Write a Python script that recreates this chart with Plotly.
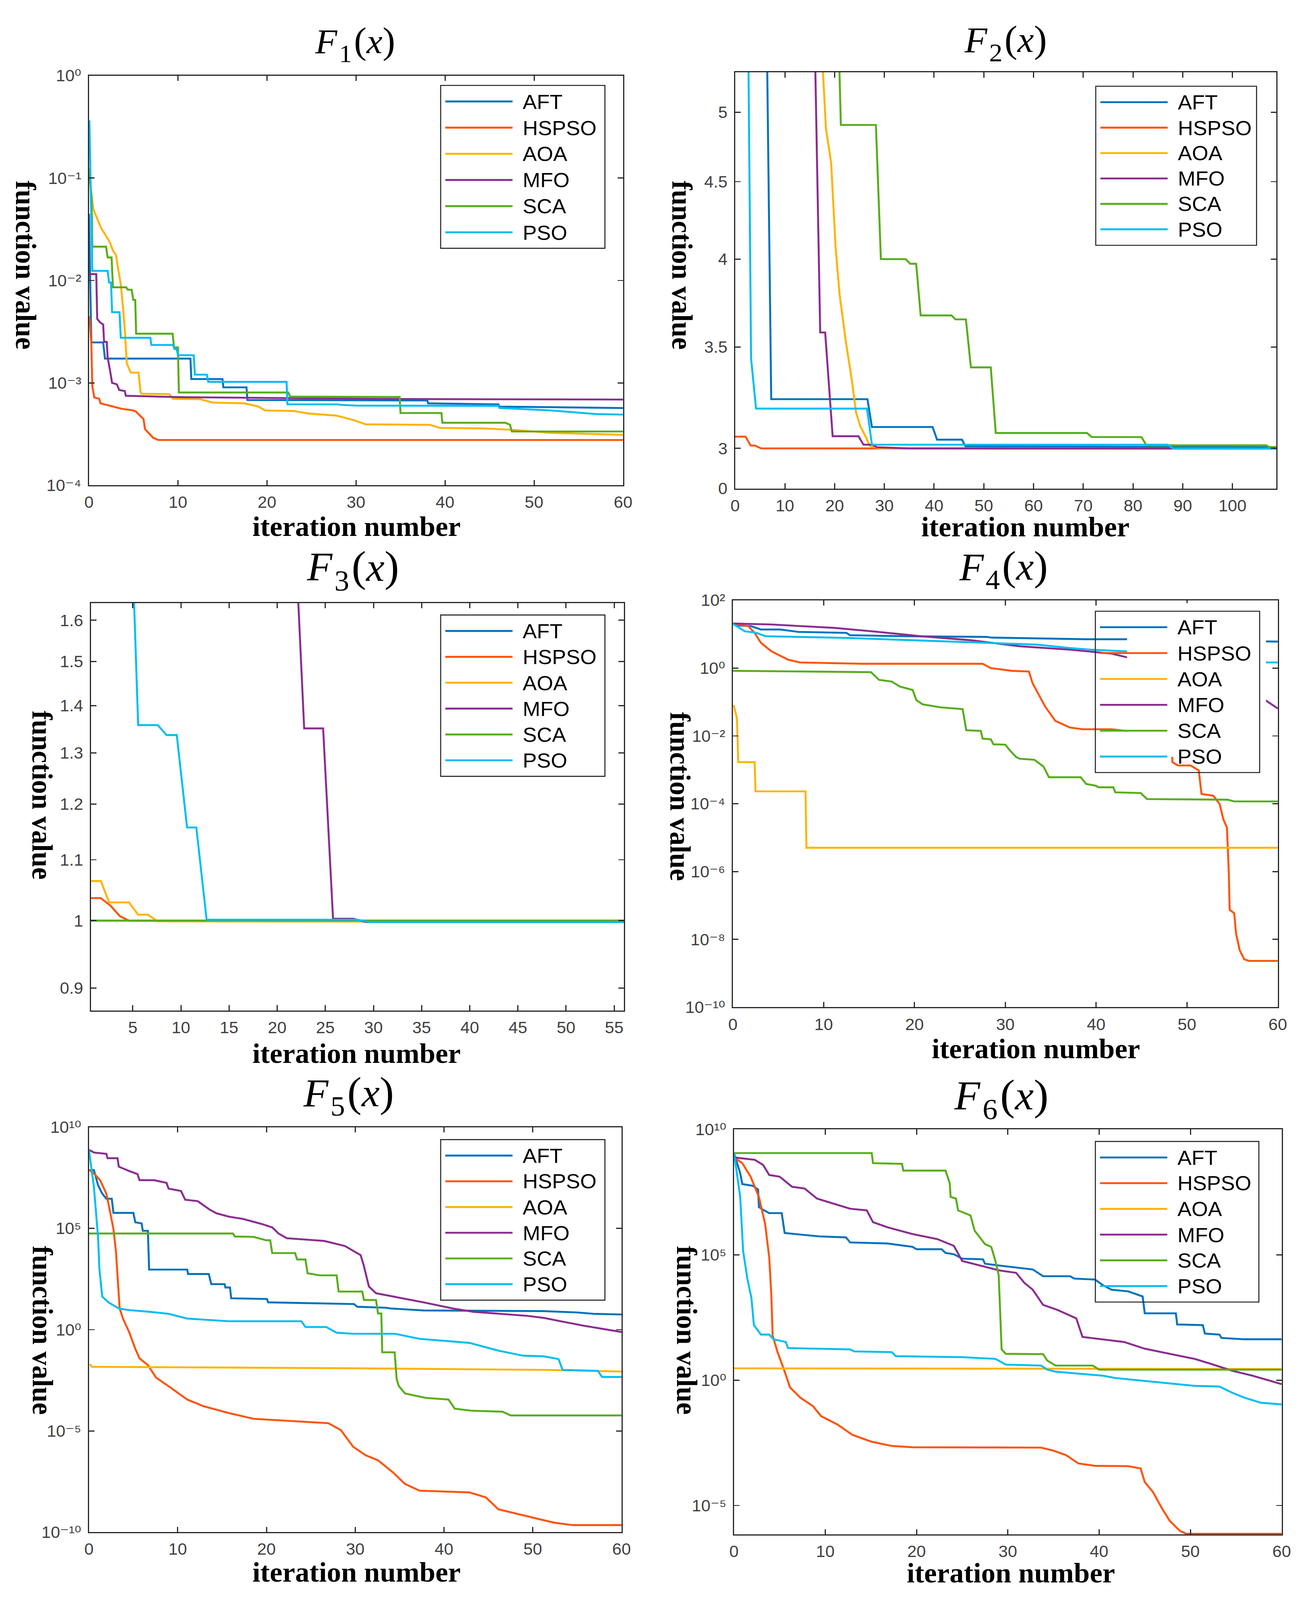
import plotly.graph_objects as go

W, H = 3366, 4206

NAMES = ["AFT", "HSPSO", "AOA", "MFO", "SCA", "PSO"]
COLORS = ["#0072BD", "#FF5308", "#FFB300", "#8A2D8F", "#58AD1A", "#00BEF0"]

# ---------------- F1 (values given as log10 of function value) ----------------
F1_AFT_X = [0, 0.27, 1.6, 1.8, 11.4, 11.5, 15.0, 15.1, 17.7, 17.8, 38.0, 38.1, 46.0, 46.1, 60]
F1_AFT_LOG = [-1.35, -2.605, -2.605, -2.763, -2.763, -2.963, -2.963, -3.044, -3.044, -3.168, -3.172, -3.20, -3.21, -3.232, -3.246]
F1_HSPSO_X = [0, 0.09, 0.27, 0.38, 0.6, 1.15, 1.3, 1.88, 2.8, 3.7, 4.8, 5.24, 5.69, 6.13, 6.3, 6.68, 7.23, 7.79, 60]
F1_HSPSO_LOG = [-2.35, -2.383, -2.625, -3.03, -3.143, -3.155, -3.2, -3.212, -3.235, -3.254, -3.266, -3.278, -3.316, -3.353, -3.452, -3.49, -3.538, -3.558, -3.558]
F1_AOA_X = [0, 0.49, 0.71, 0.93, 1.37, 1.81, 2.37, 2.7, 3.03, 3.25, 3.58, 3.8, 4.03, 4.25, 4.7, 5.57, 5.8, 5.9, 9.0, 9.45,
            12.5, 13.9, 17.4, 19.0, 19.8, 23.0, 24.7, 27.8, 29.8, 31.1, 38.3, 39.4, 44.3, 47.6, 52.0, 60]
F1_AOA_LOG = [-0.96, -1.3, -1.35, -1.4, -1.49, -1.55, -1.63, -1.71, -1.75, -1.87, -2.04, -2.24, -2.48, -2.81, -2.9, -2.9, -3.094, -3.106, -3.11, -3.156,
              -3.16, -3.193, -3.2, -3.23, -3.27, -3.275, -3.3, -3.32, -3.366, -3.405, -3.41, -3.44, -3.445, -3.459, -3.489, -3.508]
F1_MFO_X = [0, 0.82, 0.93, 1.26, 1.6, 1.7, 2.0, 2.1, 2.37, 2.6, 3.14, 3.4, 4.03, 4.14, 10.3, 21.4, 34.0, 60]
F1_MFO_LOG = [-1.938, -1.938, -2.375, -2.41, -2.43, -2.6, -2.6, -2.75, -2.88, -3.0, -3.015, -3.07, -3.08, -3.126, -3.14, -3.15, -3.158, -3.163]
F1_SCA_X = [0, 0.3, 0.38, 1.92, 2.1, 2.54, 2.7, 4.18, 4.36, 4.8, 4.98, 5.2, 5.3, 9.4, 9.56, 10.0, 10.1, 22.4, 22.6, 34.9, 35.0, 39.6, 39.7, 46.8, 47.3, 47.5, 60]
F1_SCA_LOG = [-0.906, -1.2, -1.67, -1.67, -1.775, -1.775, -2.067, -2.067, -2.09, -2.09, -2.19, -2.19, -2.52, -2.52, -2.654, -2.654, -3.094, -3.094, -3.135, -3.138, -3.295, -3.295, -3.39, -3.39, -3.41, -3.475, -3.475]
F1_PSO_X = [0, 0.05, 0.38, 2.1, 2.26, 2.48, 2.6, 3.43, 3.58, 6.9, 7.0, 9.45, 9.6, 9.85, 10.0, 11.77, 11.9, 13.25, 13.4, 22.2, 22.3, 28.0, 28.25, 30.0, 46.0, 46.1, 52.0, 57.0, 60]
F1_PSO_LOG = [-0.6, -0.437, -1.906, -1.906, -2.02, -2.02, -2.31, -2.31, -2.56, -2.56, -2.63, -2.63, -2.67, -2.67, -2.73, -2.73, -2.92, -2.92, -2.99, -2.99, -3.21, -3.21, -3.215, -3.222, -3.225, -3.245, -3.27, -3.305, -3.31]

# ---------------- F2 (function values) ----------------
F2_AFT_X = [0, 6.4, 7.25, 26.6, 27.5, 39.7, 40.6, 45.6, 46.3, 108.8]
F2_AFT_Y = [20, 5.5, 3.233, 3.233, 3.099, 3.099, 3.040, 3.040, 3.010, 3.005]
F2_HSPSO_X = [0, 2.1, 3.1, 4.0, 5.2, 108.8]
F2_HSPSO_Y = [3.054, 3.054, 3.013, 3.013, 3.0, 2.999]
F2_AOA_X = [0, 17.3, 18.25, 19.3, 20.2, 21.0, 22.25, 23.5, 24.3, 25.2, 26.0, 27.1, 29.0, 108.8]
F2_AOA_Y = [20, 5.6, 4.88, 4.63, 4.07, 3.79, 3.53, 3.32, 3.17, 3.10, 3.065, 3.012, 3.0, 2.999]
F2_MFO_X = [0, 16.0, 17.1, 18.1, 19.6, 24.8, 25.8, 27.6, 28.5, 35.0, 108.8]
F2_MFO_Y = [20, 5.6, 3.578, 3.578, 3.056, 3.056, 3.017, 3.017, 3.005, 3.0, 2.999]
F2_SCA_X = [0, 20.8, 21.25, 28.3, 29.3, 34.3, 35.2, 36.4, 37.3, 43.5, 44.3, 46.4, 47.4, 51.4, 52.4, 70.75, 71.7, 81.7, 82.7, 106.8, 107.4, 108.8]
F2_SCA_Y = [20, 5.6, 4.905, 4.905, 4.0, 4.0, 3.972, 3.972, 3.672, 3.672, 3.65, 3.65, 3.393, 3.393, 3.071, 3.071, 3.052, 3.052, 3.014, 3.014, 3.006, 3.006]
F2_PSO_X = [0, 2.65, 3.2, 4.2, 26.5, 27.5, 87.0, 88.0, 108.8]
F2_PSO_Y = [20, 5.5, 3.44, 3.187, 3.187, 3.017, 3.017, 3.0, 2.999]

# ---------------- F3 (function values) ----------------
F3_AFT_X = [0.65, 56]
F3_AFT_Y = [1.0, 1.0]
F3_HSPSO_X = [0.65, 1.68, 2.67, 3.67, 4.6, 56]
F3_HSPSO_Y = [1.036, 1.036, 1.024, 1.007, 1.0, 1.0]
F3_AOA_X = [0.65, 1.68, 2.55, 4.6, 5.56, 6.55, 7.6, 56]
F3_AOA_Y = [1.064, 1.064, 1.029, 1.029, 1.0095, 1.0095, 0.999, 0.998]
F3_MFO_X = [0.65, 22.0, 22.8, 24.77, 25.8, 27.9, 29.2, 56]
F3_MFO_Y = [3.0, 1.75, 1.351, 1.351, 1.003, 1.003, 0.998, 0.998]
F3_SCA_X = [0.65, 56]
F3_SCA_Y = [1.0, 1.0]
F3_PSO_X = [0.65, 5.0, 5.56, 7.6, 8.5, 9.57, 10.64, 11.6, 12.67, 28.3, 29.6, 56]
F3_PSO_Y = [2.5, 1.75, 1.358, 1.358, 1.337, 1.337, 1.157, 1.157, 1.0016, 1.0016, 0.998, 0.998]

# ---------------- F4 (log10 of function value) ----------------
F4_AFT_X = [0, 0.6, 2.0, 3.1, 5.2, 7.2, 12.5, 12.9, 18.9, 28.0, 28.4, 37.0, 39.0, 43.3, 52.0, 59.0, 60]
F4_AFT_LOG = [1.307, 1.257, 1.238, 1.139, 1.139, 1.069, 1.04, 0.970, 0.941, 0.921, 0.901, 0.871, 0.851, 0.851, 0.82, 0.785, 0.782]
F4_HSPSO_X = [0, 1.7, 2.4, 3.1, 4.25, 6.1, 7.4, 14.3, 27.5, 28.4, 30.7, 32.6, 33.0, 34.4, 35.5, 37.1, 38.5, 41.7, 43.3, 48.3,
              48.4, 49.0, 50.4, 51.3, 51.6, 52.9, 53.6, 54.0, 54.4, 54.6, 54.7, 55.2, 55.4, 55.8, 56.3, 56.8, 60]
F4_HSPSO_LOG = [1.307, 1.238, 1.04, 0.743, 0.495, 0.248, 0.168, 0.129, 0.129, 0.0, -0.079, -0.099, -0.446, -1.139, -1.554, -1.752, -1.802, -1.802, -1.851, -1.9,
                -2.772, -2.871, -2.871, -3.02, -3.713, -3.762, -4.01, -4.455, -4.703, -5.99, -7.129, -7.228, -7.822, -8.317, -8.584, -8.634, -8.634]
F4_AOA_X = [0.1, 0.37, 0.45, 0.6, 2.4, 2.5, 8.0, 8.1, 60]
F4_AOA_LOG = [-1.089, -1.436, -1.485, -2.772, -2.772, -3.634, -3.634, -5.297, -5.297]
F4_MFO_X = [0, 4.2, 11.1, 15.2, 20.7, 26.2, 31.6, 37.1, 41.7, 43.3, 50.0, 55.0, 58.6, 60]
F4_MFO_LOG = [1.317, 1.287, 1.188, 1.089, 0.941, 0.822, 0.644, 0.545, 0.426, 0.327, -0.1, -0.55, -0.94, -1.19]
F4_SCA_X = [0, 7.9, 15.2, 16.1, 17.5, 18.4, 19.8, 20.2, 20.9, 22.9, 25.3, 25.7, 27.3, 27.5, 28.4, 28.7, 30.0, 30.5, 31.2, 31.6,
            33.2, 34.2, 34.8, 38.3, 38.9, 39.9, 40.3, 41.9, 42.1, 44.9, 45.6, 54.5, 55.2, 60]
F4_SCA_LOG = [-0.079, -0.099, -0.119, -0.347, -0.396, -0.545, -0.644, -0.941, -1.069, -1.158, -1.208, -1.832, -1.851, -2.079, -2.099, -2.248, -2.257, -2.426, -2.624, -2.673,
              -2.703, -2.901, -3.218, -3.218, -3.416, -3.465, -3.515, -3.515, -3.663, -3.683, -3.861, -3.881, -3.931, -3.931]
F4_PSO_X = [0, 1.3, 2.6, 3.6, 12.5, 23.4, 33.5, 37.1, 39.4, 43.3, 50.0, 58.8, 60]
F4_PSO_LOG = [1.307, 1.089, 1.04, 0.941, 0.891, 0.792, 0.693, 0.594, 0.545, 0.495, 0.3, 0.168, 0.168]

# ---------------- F5 (log10 of function value) ----------------
F5_AFT_X = [0, 0.09, 0.56, 1.03, 1.5, 1.96, 2.57, 2.76, 5.0, 5.23, 5.93, 6.07, 6.64, 6.78, 11.07, 11.17, 13.5, 13.78, 15.28, 15.37,
            15.89, 16.03, 20.05, 20.19, 29.86, 30.23, 33.5, 33.97, 37.71, 51.26, 55.0, 56.87, 60]
F5_AFT_LOG = [7.883, 7.883, 7.883, 7.133, 6.717, 6.467, 6.467, 5.767, 5.767, 5.3, 5.25, 4.883, 4.883, 2.967, 2.967, 2.75, 2.75, 2.25, 2.25, 2.083,
              2.083, 1.55, 1.517, 1.35, 1.267, 1.133, 1.083, 1.05, 0.95, 0.917, 0.85, 0.783, 0.75]
F5_HSPSO_X = [0, 0.56, 1.26, 1.96, 2.43, 2.76, 3.04, 3.27, 3.46, 3.83, 4.53, 5.23, 5.7, 6.64, 7.57, 9.21, 11.07, 12.94, 15.75, 18.55,
              23.22, 26.96, 28.36, 29.77, 31.17, 32.57, 34.21, 35.61, 37.24, 42.85, 44.72, 46.12, 48.46, 50.33, 52.43, 54.53, 60]
F5_HSPSO_LOG = [7.883, 7.717, 7.383, 6.717, 5.717, 4.967, 3.883, 2.383, 1.05, 0.55, -0.117, -0.95, -1.417, -1.75, -2.367, -2.867, -3.45, -3.783, -4.117, -4.4,
                -4.533, -4.617, -4.95, -5.783, -6.2, -6.45, -7.033, -7.617, -7.95, -8.033, -8.283, -8.867, -9.117, -9.317, -9.533, -9.65, -9.65]
F5_AOA_X = [0.1, 0.33, 27.9, 51.3, 60]
F5_AOA_LOG = [-1.7, -1.833, -1.9, -1.983, -2.067]
F5_MFO_X = [0, 0.56, 1.96, 2.1, 3.22, 3.36, 4.44, 5.47, 5.7, 7.34, 8.74, 8.97, 10.37, 10.84, 12.24, 13.64, 14.35, 15.75, 17.38, 19.49,
            20.65, 21.36, 22.29, 24.16, 26.5, 28.83, 30.61, 30.93, 31.54, 32.34, 34.44, 37.71, 40.98, 43.32, 49.39, 51.26, 53.13, 55.93, 60]
F5_MFO_LOG = [8.883, 8.75, 8.683, 8.467, 8.467, 8.05, 7.85, 7.683, 7.383, 7.383, 7.25, 6.967, 6.85, 6.417, 6.35, 5.917, 5.75, 5.583, 5.467, 5.217,
              5.05, 4.75, 4.517, 4.467, 4.383, 4.133, 3.683, 3.217, 2.133, 1.8, 1.633, 1.35, 1.05, 0.883, 0.683, 0.583, 0.417, 0.183, -0.117]
F5_SCA_X = [0, 16.21, 16.45, 18.55, 19.95, 20.42, 20.65, 23.22, 23.46, 24.39, 24.63, 26.03, 27.9, 28.13, 30.79, 30.98, 32.34, 32.57, 32.94, 33.04,
            34.44, 34.67, 34.91, 35.61, 37.94, 40.51, 41.21, 43.08, 46.59, 47.52, 60]
F5_SCA_LOG = [4.75, 4.75, 4.6, 4.583, 4.417, 4.417, 3.783, 3.783, 3.467, 3.467, 2.783, 2.683, 2.683, 1.883, 1.883, 1.467, 1.467, 0.8, 0.8, -1.117,
              -1.117, -2.45, -2.783, -3.15, -3.367, -3.45, -3.9, -4.0, -4.05, -4.233, -4.233]
F5_PSO_X = [0, 0.56, 1.03, 1.17, 1.5, 2.2, 3.36, 4.53, 6.87, 8.97, 11.07, 15.75, 23.93, 24.39, 26.73, 27.9, 29.77, 34.44, 37.24, 42.85,
            46.12, 48.93, 51.26, 52.9, 53.36, 57.34, 57.8, 60]
F5_PSO_LOG = [8.883, 7.05, 4.55, 3.05, 1.633, 1.35, 1.05, 0.967, 0.883, 0.783, 0.55, 0.417, 0.417, 0.133, 0.133, -0.15, -0.2, -0.2, -0.45, -0.65,
              -1.033, -1.283, -1.317, -1.45, -1.983, -2.033, -2.333, -2.333]

# ---------------- F6 (log10 of function value) ----------------
F6_AFT_X = [0, 0.68, 0.91, 2.05, 2.64, 2.73, 3.18, 3.86, 5.23, 5.55, 9.32, 12.27, 12.73, 16.82, 19.55, 20.0, 22.73, 23.18, 24.09, 25.0,
            27.27, 27.5, 29.55, 32.73, 33.86, 36.82, 37.27, 39.55, 40.45, 41.36, 43.18, 44.77, 45.0, 48.41, 48.55, 51.36, 51.59, 53.18, 53.41, 55.91, 60]
F6_AFT_LOG = [9.058, 8.25, 7.82, 7.752, 7.604, 6.904, 6.797, 6.662, 6.662, 5.868, 5.733, 5.693, 5.491, 5.451, 5.316, 5.222, 5.222, 5.074, 5.02, 4.845,
              4.818, 4.643, 4.549, 4.415, 4.145, 4.145, 4.051, 4.011, 3.782, 3.607, 3.54, 3.338, 2.665, 2.665, 2.221, 2.194, 1.857, 1.817, 1.682, 1.629, 1.629]
F6_HSPSO_X = [0, 0.91, 1.82, 2.73, 3.41, 3.86, 4.09, 4.23, 4.77, 5.45, 6.14, 7.27, 8.64, 9.55, 11.36, 12.95, 15.0, 17.27, 19.55, 33.64,
              35.0, 36.36, 37.73, 39.55, 43.18, 44.55, 45.0, 45.91, 46.82, 47.73, 48.86, 49.55, 60]
F6_HSPSO_LOG = [8.883, 8.654, 8.116, 7.308, 6.231, 4.886, 3.405, 1.79, 1.117, 0.444, -0.296, -0.7, -1.036, -1.44, -1.777, -2.18, -2.45, -2.625, -2.678, -2.692,
                -2.813, -2.988, -3.324, -3.419, -3.432, -3.526, -4.065, -4.468, -5.074, -5.612, -6.016, -6.13, -6.13]
F6_AOA_X = [0, 60]
F6_AOA_LOG = [0.471, 0.444]
F6_MFO_X = [0, 2.27, 3.18, 3.86, 5.0, 6.36, 7.73, 9.09, 10.91, 12.73, 14.55, 15.23, 16.82, 19.55, 22.27, 24.09, 25.0, 27.27, 29.09, 30.91,
            31.82, 32.73, 33.86, 35.45, 37.5, 38.18, 40.45, 42.73, 45.0, 47.73, 50.45, 52.27, 54.55, 56.82, 58.64, 60]
F6_MFO_LOG = [8.883, 8.789, 8.587, 8.183, 8.116, 7.712, 7.645, 7.241, 7.039, 6.837, 6.77, 6.299, 6.097, 5.828, 5.626, 5.357, 4.751, 4.549, 4.374, 4.28,
              3.876, 3.607, 3.001, 2.799, 2.463, 1.723, 1.629, 1.521, 1.252, 1.05, 0.848, 0.646, 0.377, 0.175, -0.027, -0.162]
F6_SCA_X = [0, 15.09, 15.23, 18.41, 18.55, 23.18, 23.64, 23.73, 24.32, 24.55, 25.91, 26.36, 27.5, 28.18, 28.64, 29.0, 29.32, 29.77, 33.86, 34.32,
            35.23, 39.32, 40.0, 60]
F6_SCA_LOG = [9.058, 9.058, 8.654, 8.627, 8.358, 8.358, 7.847, 7.308, 7.241, 6.77, 6.568, 5.962, 5.424, 5.316, 4.751, 4.186, 1.225, 1.05, 1.036, 0.781,
              0.579, 0.579, 0.417, 0.417]
F6_PSO_X = [0, 0.68, 1.0, 1.45, 1.91, 2.18, 2.95, 3.86, 4.32, 5.68, 5.91, 12.73, 13.18, 17.27, 17.73, 25.0, 28.64, 29.77, 33.64, 34.32,
            35.23, 40.45, 41.82, 46.82, 50.45, 53.18, 54.55, 55.91, 57.73, 60]
F6_PSO_LOG = [9.058, 7.308, 5.155, 4.078, 3.271, 2.194, 1.817, 1.817, 1.629, 1.521, 1.279, 1.225, 1.144, 1.117, 0.956, 0.915, 0.848, 0.619, 0.579, 0.417,
              0.337, 0.175, 0.081, -0.094, -0.229, -0.256, -0.498, -0.7, -0.902, -0.969]

# ---------------- tick labels ----------------
F1_YTICKS = [1e0, 1e-1, 1e-2, 1e-3, 1e-4]
F1_YTEXT = ["10\u2070", "10\u207b\u00b9", "10\u207b\u00b2", "10\u207b\u00b3", "10\u207b\u2074"]
F2_YTICKS = [2.8225, 3, 3.5, 4, 4.5, 5]
F2_YTEXT = ["0", "3", "3.5", "4", "4.5", "5"]
F3_YTICKS = [0.9, 1.0, 1.1, 1.2, 1.3, 1.4, 1.5, 1.6]
F3_YTEXT = ["0.9", "1", "1.1", "1.2", "1.3", "1.4", "1.5", "1.6"]
F4_YTICKS = [1e2, 1e0, 1e-2, 1e-4, 1e-6, 1e-8, 1e-10]
F4_YTEXT = ["10\u00b2", "10\u2070", "10\u207b\u00b2", "10\u207b\u2074", "10\u207b\u2076", "10\u207b\u2078", "10\u207b\u00b9\u2070"]
F5_YTICKS = [1e10, 1e5, 1e0, 1e-5, 1e-10]
F5_YTEXT = ["10\u00b9\u2070", "10\u2075", "10\u2070", "10\u207b\u2075", "10\u207b\u00b9\u2070"]
F6_YTICKS = [1e10, 1e5, 1e0, 1e-5]
F6_YTEXT = ["10\u00b9\u2070", "10\u2075", "10\u2070", "10\u207b\u2075"]
X60_TICKS = [0, 10, 20, 30, 40, 50, 60]
F2_XTICKS = [0, 10, 20, 30, 40, 50, 60, 70, 80, 90, 100]
F3_XTICKS = [5, 10, 15, 20, 25, 30, 35, 40, 45, 50, 55]


def pw(a):
    return [10.0 ** v for v in a]


SERIES = {
    1: [(F1_AFT_X, pw(F1_AFT_LOG)), (F1_HSPSO_X, pw(F1_HSPSO_LOG)), (F1_AOA_X, pw(F1_AOA_LOG)),
        (F1_MFO_X, pw(F1_MFO_LOG)), (F1_SCA_X, pw(F1_SCA_LOG)), (F1_PSO_X, pw(F1_PSO_LOG))],
    2: [(F2_AFT_X, F2_AFT_Y), (F2_HSPSO_X, F2_HSPSO_Y), (F2_AOA_X, F2_AOA_Y),
        (F2_MFO_X, F2_MFO_Y), (F2_SCA_X, F2_SCA_Y), (F2_PSO_X, F2_PSO_Y)],
    3: [(F3_AFT_X, F3_AFT_Y), (F3_HSPSO_X, F3_HSPSO_Y), (F3_AOA_X, F3_AOA_Y),
        (F3_MFO_X, F3_MFO_Y), (F3_SCA_X, F3_SCA_Y), (F3_PSO_X, F3_PSO_Y)],
    4: [(F4_AFT_X, pw(F4_AFT_LOG)), (F4_HSPSO_X, pw(F4_HSPSO_LOG)), (F4_AOA_X, pw(F4_AOA_LOG)),
        (F4_MFO_X, pw(F4_MFO_LOG)), (F4_SCA_X, pw(F4_SCA_LOG)), (F4_PSO_X, pw(F4_PSO_LOG))],
    5: [(F5_AFT_X, pw(F5_AFT_LOG)), (F5_HSPSO_X, pw(F5_HSPSO_LOG)), (F5_AOA_X, pw(F5_AOA_LOG)),
        (F5_MFO_X, pw(F5_MFO_LOG)), (F5_SCA_X, pw(F5_SCA_LOG)), (F5_PSO_X, pw(F5_PSO_LOG))],
    6: [(F6_AFT_X, pw(F6_AFT_LOG)), (F6_HSPSO_X, pw(F6_HSPSO_LOG)), (F6_AOA_X, pw(F6_AOA_LOG)),
        (F6_MFO_X, pw(F6_MFO_LOG)), (F6_SCA_X, pw(F6_SCA_LOG)), (F6_PSO_X, pw(F6_PSO_LOG))],
}

# layout geometry in page pixels: plot rect (x0, y0, x1, y1)
RECTS = {1: (218, 177, 1600, 1266), 2: (1890, 168, 3290, 1275), 3: (223, 1579, 1602, 2663),
         4: (1884, 1572, 3294, 2654), 5: (218, 2973, 1596, 4050), 6: (1887, 2979, 3304, 4056)}
XRANGE = {1: [0, 60], 2: [0, 108.8], 3: [0.65, 56], 4: [0, 60], 5: [0, 60], 6: [0, 60]}
XTICKS = {1: X60_TICKS, 2: F2_XTICKS, 3: F3_XTICKS, 4: X60_TICKS, 5: X60_TICKS, 6: X60_TICKS}
YRANGE = {1: [-4, 0], 2: [0.45056, 0.7254], 3: [-0.0611, 0.2159], 4: [-10, 2], 5: [-10, 10], 6: [-6.157, 10]}
YTICKS = {1: (F1_YTICKS, F1_YTEXT), 2: (F2_YTICKS, F2_YTEXT), 3: (F3_YTICKS, F3_YTEXT),
          4: (F4_YTICKS, F4_YTEXT), 5: (F5_YTICKS, F5_YTEXT), 6: (F6_YTICKS, F6_YTEXT)}
# title: centre x, centre y, font size
TITLES = {1: (912, 101, 92), 2: (2595, 98, 95), 3: (907, 1501, 106), 4: (2590, 1500, 102), 5: (896, 2899, 104), 6: (2585, 2906, 108)}
XLABELS = {1: (910, 1376), 2: (2641, 1377), 3: (910, 2777), 4: (2668, 2765), 5: (910, 4157), 6: (2603, 4159)}
YLABELS = {1: (54, 681), 2: (1753, 681), 3: (97, 2090), 4: (1748, 2094), 5: (97, 3513), 6: (1764, 3513)}
LEGBOX = {1: (1128, 203, 1553, 636), 2: (2823, 205, 3239, 628), 3: (1128, 1611, 1553, 2040),
          4: (2822, 1601, 3247, 2030), 5: (1128, 3006, 1553, 3433), 6: (2822, 3011, 3245, 3438)}

AXC = "#262626"
SANS = "Liberation Sans, Arial, DejaVu Sans, sans-serif"
TICKFONT = dict(family=SANS, size=43, color="#404040")
SERIF = "Liberation Serif, Times New Roman, serif"


def fx(p):
    return p / W


def fy(p):
    return 1 - p / H


fig = go.Figure()
shapes = []
annotations = []
layout = {}


def note(text, x, y, size, family, xanchor="center", angle=0):
    annotations.append(dict(text=text, x=fx(x), y=fy(y), xref="paper", yref="paper", showarrow=False,
                            xanchor=xanchor, yanchor="middle", textangle=angle,
                            font=dict(family=family, size=size, color="black")))


for n in range(1, 7):
    sfx = "" if n == 1 else str(n)
    x0, y0, x1, y1 = RECTS[n]
    for (xs, ys), name, col in zip(SERIES[n], NAMES, COLORS):
        fig.add_trace(go.Scatter(x=xs, y=ys, mode="lines", name=name, showlegend=False,
                                 line=dict(color=col, width=5), xaxis="x" + sfx, yaxis="y" + sfx,
                                 hoverinfo="skip"))
    common = dict(showline=True, linecolor=AXC, linewidth=3, mirror="ticks", ticks="inside",
                  ticklen=14, tickwidth=3, tickcolor=AXC, showgrid=False, zeroline=False,
                  tickfont=TICKFONT)
    layout["xaxis" + sfx] = dict(domain=[fx(x0), fx(x1)], anchor="y" + sfx, range=XRANGE[n],
                                 tickmode="array", tickvals=XTICKS[n], ticklabelstandoff=5, **common)
    tv, tt = YTICKS[n]
    layout["yaxis" + sfx] = dict(domain=[fy(y1), fy(y0)], anchor="x" + sfx, type="log", range=YRANGE[n],
                                 tickmode="array", tickvals=tv, ticktext=tt, ticklabelstandoff=8, **common)

    # panel title  F_n ( x )  -- italic F, upright subscript digit, slightly taller brackets
    tx, ty, ts = TITLES[n]
    k = ts / 92.0
    ps = int(ts * 1.06)
    f_cy = ty - 15 * k
    note("<i>F</i>", tx - 111 * k, f_cy, ts, SERIF, xanchor="left")
    note(str(n), tx - 30 * k, ty + 16.5 * k, int(ts * 0.72), SERIF)
    note('<span style="font-size:%dpx">(</span><i>x</i><span style="font-size:%dpx">)</span>' % (ps, ps),
         tx - 10 * k, f_cy - 0.3375 * (ps - ts), ts, SERIF, xanchor="left")

    lx, ly = XLABELS[n]
    note("<b>iteration number</b>", lx, ly, 73, SERIF)
    vx, vy = YLABELS[n]
    note("<b>function value</b>", vx, vy, 73, SERIF, angle=90)

    # F4: the curves are masked behind the upper part of the legend area
    if n == 4:
        shapes.append(dict(type="rect", xref="x4", yref="y4 domain", x0=43.4, x1=58.7,
                           y0=(10 - 2.62) / 12.0, y1=0.993, fillcolor="white", line=dict(width=0),
                           layer="above"))

    # legend
    bx0, by0, bx1, by1 = LEGBOX[n]
    shapes.append(dict(type="rect", xref="paper", yref="paper", x0=fx(bx0), x1=fx(bx1), y0=fy(by1), y1=fy(by0),
                       line=dict(color=AXC, width=2.7), fillcolor="rgba(0,0,0,0)", layer="above"))
    step = (by1 - by0 - 85) / 5.0
    for i, (name, col) in enumerate(zip(NAMES, COLORS)):
        cy = by0 + 42.5 + i * step
        shapes.append(dict(type="line", xref="paper", yref="paper", x0=fx(bx0 + 12), x1=fx(bx0 + 186),
                           y0=fy(cy), y1=fy(cy), line=dict(color=col, width=5), layer="above"))
        note(name, bx0 + 210, cy, 54, SANS, xanchor="left")

fig.update_layout(width=W, height=H, autosize=False, margin=dict(l=0, r=0, t=0, b=0),
                  paper_bgcolor="white", plot_bgcolor="white", showlegend=False,
                  shapes=shapes, annotations=annotations, **layout)

# pin the figure to the top-left corner of the page and fit it to the visible window
FIT_SCRIPT = (
    "var gd=document.getElementById('{plot_id}');"
    "document.documentElement.style.margin='0';document.documentElement.style.overflow='hidden';"
    "document.body.style.margin='0';document.body.style.overflow='hidden';"
    "gd.style.position='fixed';gd.style.left='0px';gd.style.top='0px';gd.style.transformOrigin='0 0';"
    "var sx=window.innerWidth/%d, sy=window.innerHeight/%d;"
    "if(sx>0.2&&sy>0.2&&(Math.abs(sx-1)>0.001||Math.abs(sy-1)>0.001)){gd.style.transform='scale('+sx+','+sy+')';}"
    % (W, H)
)

fig.write_html("out.html", post_script=FIT_SCRIPT, config={"displayModeBar": False})
